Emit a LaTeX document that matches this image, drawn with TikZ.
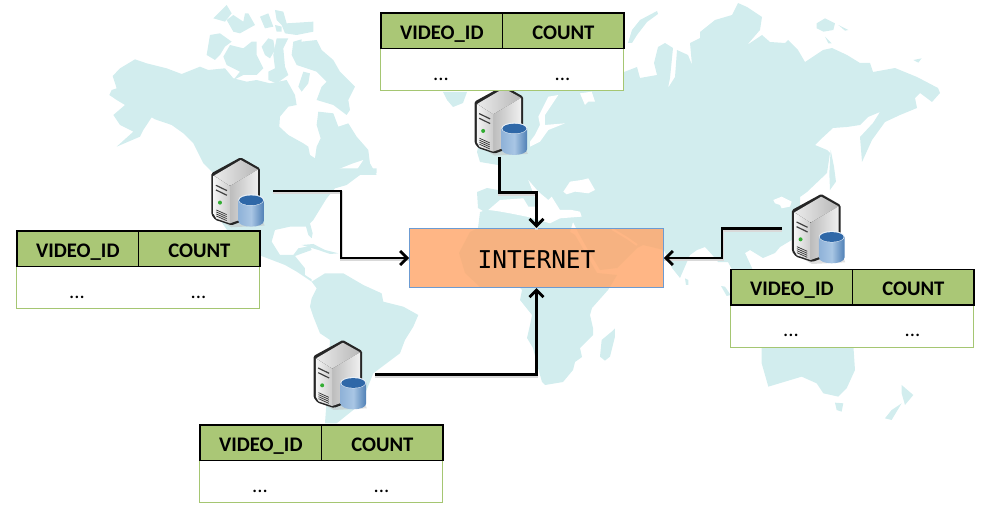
\documentclass[tikz,border=0pt]{standalone}
\usepackage{fontspec}
\setmainfont{Carlito}
\newfontfamily\monof{DejaVu Sans Mono}
\usetikzlibrary{arrows.meta}
\definecolor{landc}{HTML}{D2EDEE}
\definecolor{headc}{HTML}{AAC776}
\definecolor{bodyline}{HTML}{A5C672}
\definecolor{netc}{HTML}{FFA466}
\definecolor{netline}{HTML}{6C9BD2}
\definecolor{cylL}{HTML}{8FB2D8}
\definecolor{cylM}{HTML}{A9C6E4}
\definecolor{cylR}{HTML}{4F80B6}
\definecolor{cylT}{HTML}{2F68A8}
\ExplSyntaxOn
\tl_new:N \l_mypoly_tl
\NewDocumentCommand \polyg { m m }
 {
  \tl_set:Nn \l_mypoly_tl { #2 }
  \tl_replace_all:Nnn \l_mypoly_tl { )( } { )--( }
  \tl_put_left:Nn \l_mypoly_tl { \fill[#1] }
  \tl_put_right:Nn \l_mypoly_tl { --cycle; }
  \tl_use:N \l_mypoly_tl
 }
\ExplSyntaxOff
\tikzset{
 landfill/.style={fill=landc},
 seafill/.style={fill=white},
 thead/.style={draw=black,line width=1.6pt,fill=headc,minimum width=121.5pt,minimum height=35.5pt,inner sep=0pt,
   font=\bfseries\fontsize{20.7}{22}\selectfont,text height=19pt,text depth=2pt,anchor=north west},
 tbody/.style={draw=bodyline,line width=1pt,fill=white,minimum width=243pt,minimum height=42.5pt,inner sep=0pt,anchor=north west},
 tdots/.style={inner sep=0pt,font=\fontsize{20.7}{22}\selectfont},
 link/.style={draw=black,line width=2.8pt,line join=miter,
   preaction={draw=black!15,line width=3pt,-,transform canvas={shift={(0pt,-1.8pt)}}}},
 linkarrow/.style={link,-{Straight Barb[length=7pt,width=14pt,line width=2.8pt]}},
 dbtable/.pic={
  \node[tbody] (-body) at (0,35.5) {};
  \node[thead] (-id) at (0,0) {VIDEO\_ID};
  \node[thead] (-cnt) at (121.5,0) {COUNT};
  \node[tdots] (-d1) at (60.75,67) {...};
  \node[tdots] (-d2) at (182.25,67) {...};
 },
 server/.pic={
  \begin{scope}[x=.3333pt,y=-.3333pt]
   \fill[black!25,opacity=.5] (2,175) -- (60,210) -- (160,205) -- (146,170) -- cycle;
   \fill[black!85,rounded corners=1.5pt] (0,48) -- (88,0) -- (146,33) -- (146,172) -- (61,204) -- (12,188) -- (0,172) -- cycle;
   \shade[left color=black!8,right color=black!28,rounded corners=.5pt] (88,8) -- (140,37) -- (56,86) -- (8,55) -- cycle;
   \shade[left color=black!26,right color=black!6] (56,86) -- (140,37) -- (140,169) -- (56,198) -- cycle;
   \shade[left color=black!4,right color=black!20] (7,55) -- (56,86) -- (56,198) -- (15,184) -- (7,170) -- cycle;
   \draw[black!75,line width=1.2pt] (14,84) -- (47,100) (14,98) -- (47,114);
   \fill[green!60!black!80] (26,136) circle [radius=2pt];
   \draw[black!80,line width=.7pt] (15,158) -- (46,172) (15,164) -- (46,178) (15,170) -- (46,184) (15,176) -- (46,190);
   \shade[left color=cylL,right color=cylR,middle color=cylM]
     (81,128) -- (81,190) .. controls (81,214) and (158,214) .. (158,190) -- (158,128) -- cycle;
   \fill[white!75!cylM] (119.5,128) ellipse [x radius=12.9pt,y radius=5.7pt];
   \fill[cylT] (119.5,129) ellipse [x radius=12pt,y radius=4.9pt];
  \end{scope}
 },
}
\begin{document}
\begin{tikzpicture}[x=1pt,y=-1pt]
\useasboundingbox (0,0) rectangle (990,513);
% ---------- world map ----------
\begin{scope}[shift={(100pt,0pt)},x=.3333pt,y=-.3333pt]
 \polyg{landfill}{(28,285)(35,270)(50,265)(38,228)(60,205)(105,178)(140,190)(200,205)(245,222)(300,200)(325,210)(375,205)(400,235)(440,245)(470,240)(510,250)(560,240)(585,285)(590,315)(565,320)(540,350)(538,380)(565,405)(610,430)(625,440)(630,465)(645,475)(650,440)(662,415)(650,375)(655,335)(700,340)(715,380)(745,370)(770,410)(805,450)(810,490)(830,525)(780,525)(750,540)(340,540)(340,520)(310,490)(280,430)(250,400)(215,375)(165,358)(155,352)(130,390)(120,410)(50,440)(100,395)(60,375)(40,345)(75,315)(50,300)}
 \polyg{seafill}{(710,510)(760,490)(790,480)(770,510)(745,530)}
 \polyg{landfill}{(320,165)(330,105)(360,100)(395,125)(375,140)(360,165)(345,180)}
 \polyg{landfill}{(370,170)(390,135)(430,145)(455,125)(470,125)(470,165)(490,205)(470,225)(430,225)(400,240)(420,215)(380,195)}
 \polyg{landfill}{(485,140)(505,115)(520,120)(525,150)(510,175)(495,165)}
 \polyg{landfill}{(530,115)(565,115)(550,145)(555,200)(565,225)(530,250)(505,240)(505,215)(525,205)(520,165)}
 \polyg{landfill}{(575,165)(580,125)(605,118)(600,160)(605,125)(650,120)(665,150)(700,180)(720,215)(765,260)(745,300)(750,330)(740,345)(700,315)(650,300)(665,260)(680,245)(650,215)(620,205)(590,195)}
 \polyg{landfill}{(595,260)(610,215)(630,220)(625,250)(605,275)}
 \polyg{landfill}{(340,55)(380,15)(395,40)(375,65)}
 \polyg{landfill}{(380,60)(400,45)(430,65)(435,40)(445,40)(465,75)(420,100)(400,95)}
 \polyg{landfill}{(480,50)(505,40)(520,80)(495,85)}
 \polyg{landfill}{(525,30)(550,35)(560,70)(640,65)(640,95)(590,105)(555,100)(545,75)(530,60)}
 \polyg{landfill}{(525,75)(545,80)(545,95)(530,95)}
\end{scope}
\begin{scope}[shift={(230pt,-170pt)},x=.3333pt,y=-.3333pt]
 \polyg{landfill}{(440,10)(390,15)(350,45)(315,55)(290,85)(250,150)(240,160)(248,190)(245,205)(235,195)(228,170)(180,170)(135,180)(125,215)(150,255)(190,255)(205,235)(240,228)(245,240)(195,258)(225,295)(225,315)(245,328)(245,335)(200,305)(165,285)(105,262)(30,235)(-30,150)(-50,10)(-50,-5)(440,-5)}
 \polyg{landfill}{(215,225)(250,222)(285,240)(325,250)(300,252)(265,240)}
 \polyg{landfill}{(245,335)(285,310)(340,310)(400,345)(455,370)(460,395)(520,410)(565,435)(550,470)(525,510)(510,550)(470,580)(430,610)(410,660)(370,720)(320,760)(285,760)(290,690)(300,510)(270,490)(250,440)(240,410)(245,385)(260,355)}
\end{scope}
% Eurasia and Africa
\polyg{landfill}{(540,85)(624,72)(637,67)(640,78)(657,75)(654,63)(658,47)(665,43)(673,48)(670,78)(668,88)(675,77)(677,50)(688,55)(692,65)(690,43)(700,38)(700,32)(715,20)(732,15)(738,3)(747,7)(762,17)(760,30)(747,45)(762,35)(770,42)(785,43)(788,40)(798,50)(805,62)(823,50)(832,48)(847,55)(860,63)(870,63)(873,72)(895,68)(917,77)(938,88)(940,93)(932,102)(920,93)(915,98)(917,108)(900,115)(885,122)(872,140)(862,162)(860,137)(873,123)(880,112)(868,117)(860,125)(847,127)(833,128)(820,140)(815,145)(827,150)(830,153)(827,173)(807,192)(800,197)(800,235)(780,247)(775,253)(763,258)(750,250)(745,253)(752,268)(753,272)(735,275)(728,262)(718,262)(715,258)(705,247)(697,250)(690,255)(680,278)(672,268)(664,250)(643,245)(637,248)(617,268)(600,270)(587,248)(578,232)(573,222)(570,232)(575,235)(585,252)(597,273)(617,275)(608,290)(592,308)(590,315)(593,328)(593,335)(580,348)(582,357)(575,362)(573,370)(563,382)(545,385)(542,382)(538,368)(533,348)(527,338)(530,325)(532,315)(520,300)(522,290)(520,288)(480,287)(465,273)(459,253)(470,232)(478,228)(480,212)(483,211)(478,208)(477,192)(487,188)(498,190)(498,165)(480,162)(477,152)(490,95)}
\begin{scope}[shift={(460pt,-85pt)},x=.3333pt,y=-.3333pt]
 \polyg{seafill}{(265,35)(295,30)(255,90)(255,120)(315,115)(265,135)(240,170)(210,185)(210,170)(225,150)(240,120)(235,95)}
 \polyg{seafill}{(360,25)(395,20)(405,50)(385,50)(375,60)}
 \polyg{seafill}{(85,375)(120,345)(190,340)(205,365)(235,365)(205,285)(235,320)(265,345)(275,335)(300,375)(335,375)(360,380)(365,395)(300,400)(270,415)(200,395)(150,385)(110,378)}
 \polyg{seafill}{(310,320)(330,290)(365,285)(385,280)(405,315)(385,325)(345,320)(320,328)}
\end{scope}
\draw[white,line width=2pt] (612,229) -- (627,238) -- (637,245);
\begin{scope}[shift={(660pt,0pt)},x=.3333pt,y=-.3333pt]
 \polyg{landfill}{(470,70)(495,55)(525,70)(520,90)(490,95)(470,85)}
 \polyg{landfill}{(535,75)(565,90)(555,92)}
 \polyg{landfill}{(495,110)(515,130)(505,130)}
 \polyg{landfill}{(760,180)(785,175)(775,188)}
 \polyg{landfill}{(512,450)(522,500)(528,545)(510,570)(508,520)}
 \polyg{seafill}{(340,600)(365,590)(395,605)(390,620)(365,625)(360,615)(345,610)}
\end{scope}
\polyg{landfill}{(628,43)(632,30)(640,20)(657,11)(658,14)(647,22)(637,35)(632,43)}
\polyg{landfill}{(443,92)(467,92)(463,103)(453,107)(447,100)}
\begin{scope}[shift={(470pt,-225pt)},x=.3333pt,y=-.3333pt]
 \polyg{landfill}{(435,310)(435,335)(420,395)(405,407)(390,395)(395,345)(425,320)}
 \polyg{landfill}{(645,160)(655,165)(655,180)(648,180)}
\end{scope}
\begin{scope}[shift={(660pt,-260pt)},x=.3333pt,y=-.3333pt]
 \polyg{landfill}{(183,78)(195,80)(212,105)(200,108)}
 \polyg{landfill}{(305,255)(580,255)(585,330)(560,385)(535,410)(490,400)(470,370)(425,350)(375,365)(325,380)(305,310)}
 \polyg{landfill}{(525,428)(550,430)(545,455)(530,450)}
 \polyg{landfill}{(725,375)(760,405)(735,435)(725,400)}
 \polyg{landfill}{(725,430)(695,480)(675,475)(695,450)}
\end{scope}
% ---------- servers ----------
\pic at (211.3,157.3) {server};
\pic at (474.5,85.6) {server};
\pic at (791.9,194) {server};
\pic at (313.5,340) {server};
% ---------- tables ----------
\pic (tw) at (16.3,230.3) {dbtable};
\pic (tn) at (380.3,12.3) {dbtable};
\pic (te) at (730.3,268.8) {dbtable};
\pic (ts) at (199.3,424.3) {dbtable};
% ---------- internet ----------
\node[fill=netc,fill opacity=.8,text opacity=1,draw=netline,line width=.8pt,minimum width=254pt,minimum height=59.5pt,inner sep=0pt,
  font=\monof\fontsize{24.5}{26}\selectfont] (net) at (536.5,258) {\raisebox{-10.8pt}[0pt][0pt]{INTERNET}};
% ---------- connectors ----------
\coordinate (outW) at (273,191);
\coordinate (bendW) at (341,225);
\coordinate (outN) at (499.3,157);
\coordinate (bendN) at (520,192.5);
\coordinate (outE) at (781.7,228.5);
\coordinate (bendE) at (722,240);
\coordinate (outS) at (375,374.3);
\draw[linkarrow] (outW) -| (bendW) |- (net.west);
\draw[linkarrow] (outN) |- (bendN) -| (net.north);
\draw[linkarrow] (outE) -| (bendE) |- (net.east);
\draw[linkarrow] (outS) -| (net.south);
\end{tikzpicture}
\end{document}
